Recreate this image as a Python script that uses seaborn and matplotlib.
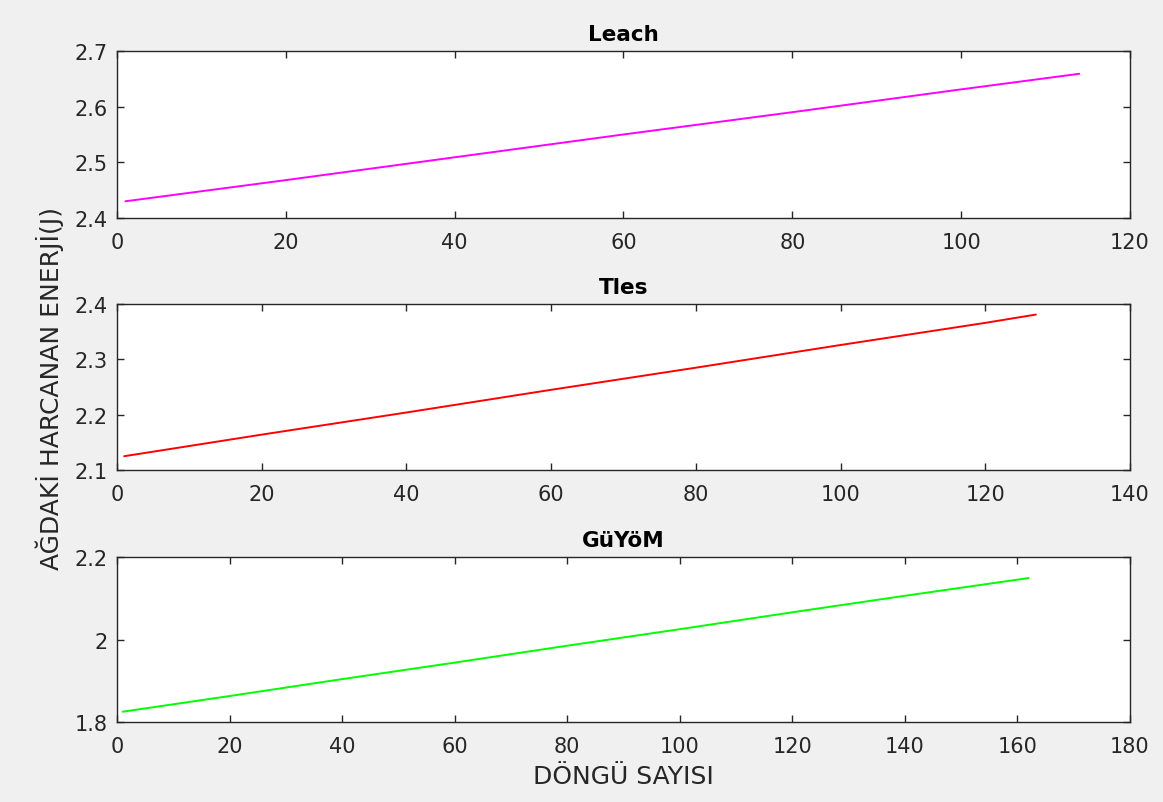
import pandas as pd
import matplotlib
matplotlib.use("Agg")
import matplotlib.pyplot as plt
import seaborn as sns

# values (energy vs round)
leach_x = [1, 20, 40, 60, 80, 100, 114]
leach_y = [2.430, 2.468, 2.509, 2.550, 2.590, 2.631, 2.659]

tles_x = [1, 20, 40, 60, 80, 100, 120, 127]
tles_y = [2.125, 2.164, 2.204, 2.245, 2.285, 2.326, 2.366, 2.381]

guyom_x = [1, 20, 40, 60, 80, 100, 120, 140, 162]
guyom_y = [1.825, 1.863, 1.904, 1.944, 1.985, 2.025, 2.066, 2.106, 2.149]

titles = ["Leach", "Tles", "GüYöM"]
colors = ["#ff00ff", "#ff0000", "#00ff00"]
xlims = [(0, 120), (0, 140), (0, 180)]
ylims = [(2.4, 2.7), (2.1, 2.4), (1.8, 2.2)]
yticks = [[2.4, 2.5, 2.6, 2.7], [2.1, 2.2, 2.3, 2.4], [1.8, 2.0, 2.2]]
ytick_labels = [["2.4", "2.5", "2.6", "2.7"], ["2.1", "2.2", "2.3", "2.4"], ["1.8", "2", "2.2"]]

sns.set_style("ticks")
plt.rcParams["font.family"] = ["DejaVu Sans"]

fig = plt.figure(figsize=(11.63, 8.03), dpi=100)
fig.patch.set_facecolor("#f0f0f0")

positions = [
    [0.1006, 0.7273, 0.871, 0.208],
    [0.1006, 0.4134, 0.871, 0.2067],
    [0.1006, 0.0996, 0.871, 0.2055],
]
series = [(leach_x, leach_y), (tles_x, tles_y), (guyom_x, guyom_y)]

axes = []
for i in range(3):
    ax = fig.add_axes(positions[i])
    df = pd.DataFrame({"x": series[i][0], "y": series[i][1]})
    sns.lineplot(data=df, x="x", y="y", color=colors[i], linewidth=1.4, ax=ax)
    ax.set_facecolor("white")
    ax.set_xlim(*xlims[i])
    ax.set_ylim(*ylims[i])
    ax.set_yticks(yticks[i])
    ax.set_yticklabels(ytick_labels[i])
    ax.set_title(titles[i], fontsize=15.5, fontweight="bold", color="black", pad=8)
    ax.set_xlabel("")
    ax.set_ylabel("")
    ax.tick_params(direction="in", top=True, right=True, length=5, width=1,
                   labelsize=15, colors="#262626")
    ax.tick_params(axis="x", pad=10)
    ax.tick_params(axis="y", pad=7)
    for s in ax.spines.values():
        s.set_color("#262626")
        s.set_linewidth(1)
        s.set_visible(True)
    axes.append(ax)

axes[1].set_ylabel("AĞDAKİ HARCANAN ENERJİ(J)", fontsize=18, color="#262626", labelpad=7)
axes[2].set_xlabel("DÖNGÜ SAYISI", fontsize=18, color="#262626", labelpad=6)

fig.savefig("out.png", dpi=100, facecolor=fig.get_facecolor())
